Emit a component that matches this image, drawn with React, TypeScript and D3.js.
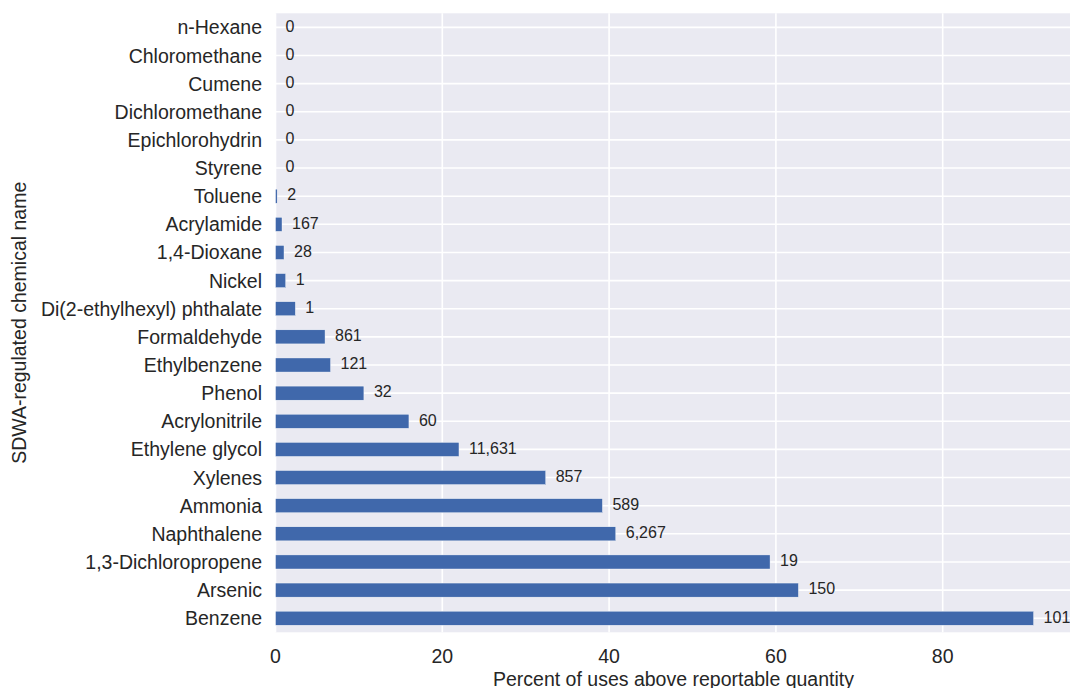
import React from 'react';
import * as d3 from 'd3';

// categories, top to bottom as drawn
const chemicals = [
  'n-Hexane', 'Chloromethane', 'Cumene', 'Dichloromethane', 'Epichlorohydrin', 'Styrene',
  'Toluene', 'Acrylamide', '1,4-Dioxane', 'Nickel', 'Di(2-ethylhexyl) phthalate',
  'Formaldehyde', 'Ethylbenzene', 'Phenol', 'Acrylonitrile', 'Ethylene glycol',
  'Xylenes', 'Ammonia', 'Naphthalene', '1,3-Dichloropropene', 'Arsenic', 'Benzene',
];
// percent of uses above reportable quantity
const percents = [
  0, 0, 0, 0, 0, 0,
  0.2, 0.78, 1.02, 1.22, 2.38,
  5.94, 6.6, 10.6, 16.0, 22.0,
  32.4, 39.2, 40.8, 59.3, 62.7, 90.9,
];
// number of uses, shown next to each bar
const useCounts = [
  '0', '0', '0', '0', '0', '0',
  '2', '167', '28', '1', '1',
  '861', '121', '32', '60', '11,631',
  '857', '589', '6,267', '19', '150', '101',
];
const xTicks = [0, 20, 40, 60, 80];

const W = 1070;
const H = 688;
const left = 275.5;
const top = 13.3;
const bottom = 632.3;
const font = 'Arial, "Liberation Sans", sans-serif';
const ink = '#262626';

const App = () => {
  const x = d3.scaleLinear()
    .domain([0, d3.max(percents)! * 1.05])
    .range([left, left + 796]);

  const y = d3.scaleBand<string>()
    .domain(chemicals)
    .range([top, bottom])
    .paddingInner(0)
    .paddingOuter(0);

  const bw = y.bandwidth();

  return (
    <svg width={W} height={H} style={{ position: 'absolute', left: 0, top: 0 }}>
      <rect x={0} y={0} width={W} height={H} fill="#fff" />
      <rect x={left} y={top} width={x.range()[1] - left} height={bottom - top} fill="#EAEAF2" />

      {/* grid */}
      {xTicks.map(t => (
        <line key={'vx' + t} x1={x(t)} x2={x(t)} y1={top} y2={bottom} stroke="#fff" strokeWidth={1.6} />
      ))}
      {chemicals.map(c => (
        <line key={'hy' + c} x1={left} x2={x.range()[1]} y1={y(c)! + bw / 2} y2={y(c)! + bw / 2}
          stroke="#fff" strokeWidth={1.6} />
      ))}

      {/* bars */}
      {chemicals.map((c, i) => (
        percents[i] > 0 ? (
          <rect key={'b' + c} x={x(0)} y={y(c)! + bw * 0.25} width={x(percents[i]) - x(0)} height={bw * 0.5}
            fill="#4068AB" stroke="#fff" strokeWidth={0.4} />
        ) : null
      ))}

      {/* value labels */}
      {chemicals.map((c, i) => (
        <text key={'v' + c} x={x(percents[i]) + 10} y={y(c)! + bw / 2 + 4.3}
          fontFamily={font} fontSize={16} fill={ink}>{useCounts[i]}</text>
      ))}

      {/* y tick labels */}
      {chemicals.map(c => (
        <text key={'yl' + c} x={262} y={y(c)! + bw / 2 + 7} textAnchor="end"
          fontFamily={font} fontSize={19.5} fill={ink}>{c}</text>
      ))}

      {/* x tick labels */}
      {xTicks.map(t => (
        <text key={'xl' + t} x={x(t)} y={663} textAnchor="middle"
          fontFamily={font} fontSize={19.5} fill={ink}>{t}</text>
      ))}

      <text x={(left + x.range()[1]) / 2} y={685.5} textAnchor="middle"
        fontFamily={font} fontSize={19.5} fill={ink}>Percent of uses above reportable quantity</text>
      <text transform={`translate(26,${(top + bottom) / 2}) rotate(-90)`} textAnchor="middle"
        fontFamily={font} fontSize={19.5} fill={ink}>SDWA-regulated chemical name</text>
    </svg>
  );
};

export default App;
